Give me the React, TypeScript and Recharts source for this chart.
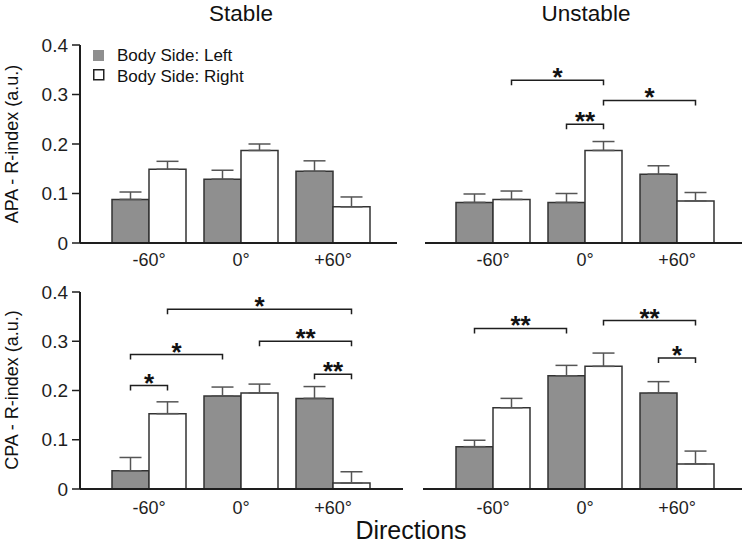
import { BarChart, Bar, XAxis, YAxis, ErrorBar, ReferenceLine } from 'recharts';

const categories = ['-60°', '0°', '+60°'];
const yTicks = [0, 0.1, 0.2, 0.3, 0.4];

// APA, stable surface
const stableApaLeft = [0.088, 0.129, 0.145];
const stableApaLeftErr = [0.015, 0.018, 0.021];
const stableApaRight = [0.149, 0.187, 0.073];
const stableApaRightErr = [0.016, 0.013, 0.02];

// APA, unstable surface
const unstableApaLeft = [0.082, 0.082, 0.139];
const unstableApaLeftErr = [0.017, 0.018, 0.017];
const unstableApaRight = [0.088, 0.187, 0.085];
const unstableApaRightErr = [0.017, 0.018, 0.017];

// CPA, stable surface
const stableCpaLeft = [0.037, 0.189, 0.184];
const stableCpaLeftErr = [0.027, 0.018, 0.024];
const stableCpaRight = [0.153, 0.195, 0.012];
const stableCpaRightErr = [0.024, 0.018, 0.023];

// CPA, unstable surface
const unstableCpaLeft = [0.086, 0.23, 0.195];
const unstableCpaLeftErr = [0.013, 0.021, 0.023];
const unstableCpaRight = [0.165, 0.249, 0.051];
const unstableCpaRightErr = [0.019, 0.027, 0.026];

// significance brackets: [category, side] -> [category, side], height, label
type Bracket = { from: [number, number]; to: [number, number]; y: number; label: string };
const stableApaBrackets: Bracket[] = [];
const unstableApaBrackets: Bracket[] = [
  { from: [0, 1], to: [1, 1], y: 0.329, label: '*' },
  { from: [1, 0], to: [1, 1], y: 0.24, label: '**' },
  { from: [1, 1], to: [2, 1], y: 0.288, label: '*' },
];
const stableCpaBrackets: Bracket[] = [
  { from: [0, 1], to: [2, 1], y: 0.365, label: '*' },
  { from: [1, 1], to: [2, 1], y: 0.3, label: '**' },
  { from: [0, 0], to: [1, 0], y: 0.273, label: '*' },
  { from: [2, 0], to: [2, 1], y: 0.233, label: '**' },
  { from: [0, 0], to: [0, 1], y: 0.21, label: '*' },
];
const unstableCpaBrackets: Bracket[] = [
  { from: [0, 0], to: [1, 0], y: 0.326, label: '**' },
  { from: [1, 1], to: [2, 1], y: 0.342, label: '**' },
  { from: [2, 0], to: [2, 1], y: 0.266, label: '*' },
];

const FONT = '"Liberation Sans", Arial, Helvetica, sans-serif';
const GRAY = '#8f8f8f';
const INK = '#1e1e1e';
const BAR_SIZE = 37;
const TICK_DROP = 5;

// bars sit side by side (barGap 0), so each bar centre is half a bar from the band centre
const sideShift = (side: number) => (side === 0 ? -BAR_SIZE / 2 : BAR_SIZE / 2);

const BracketShape = (props: any) => {
  const { x1, y1, x2, sa, sb, label } = props;
  if (x1 == null || y1 == null) return null;
  const xa = x1 + sideShift(sa);
  const xb = x2 + sideShift(sb);
  return (
    <g>
      <path
        d={`M${xa},${y1 + TICK_DROP}V${y1}H${xb}V${y1 + TICK_DROP}`}
        fill="none"
        stroke={INK}
        strokeWidth={1.5}
      />
      <text x={(xa + xb) / 2} y={y1 + 6} textAnchor="middle" fontSize={26} fontWeight="bold" fill="#111" fontFamily={FONT}>
        {label}
      </text>
    </g>
  );
};

type Box = { left: number; top: number; width: number; height: number };
type Plot = { x0: number; x1: number; y0: number; y1: number; padL: number; padR: number; tickGap: number };

interface PanelProps {
  box: Box;
  plot: Plot;
  showY: boolean;
  left: number[];
  leftErr: number[];
  right: number[];
  rightErr: number[];
  brackets: Bracket[];
}

const Panel = ({ box, plot, showY, left, leftErr, right, rightErr, brackets }: PanelProps) => {
  const data = categories.map((cat, i) => ({
    cat,
    left: left[i],
    right: right[i],
    leftErr: [0, leftErr[i]],
    rightErr: [0, rightErr[i]],
  }));
  const yAxisW = 80;
  const margin = {
    top: plot.y0 - box.top,
    left: showY ? plot.x0 - box.left - yAxisW : plot.x0 - box.left,
    right: box.left + box.width - plot.x1,
    bottom: 0,
  };
  const xAxisH = box.top + box.height - plot.y1;

  return (
    <div style={{ position: 'absolute', left: box.left, top: box.top, width: box.width, height: box.height }}>
      <BarChart width={box.width} height={box.height} data={data} margin={margin} barSize={BAR_SIZE} barGap={0}>
        <XAxis
          dataKey="cat"
          padding={{ left: plot.padL, right: plot.padR }}
          height={xAxisH}
          axisLine={{ stroke: INK, strokeWidth: 2 }}
          tickLine={false}
          tickSize={0}
          tickMargin={plot.tickGap}
          tick={{ fontSize: 18, fill: INK, fontFamily: FONT }}
        />
        {showY ? (
          <YAxis
            width={yAxisW}
            domain={[0, 0.4]}
            ticks={yTicks}
            interval={0}
            axisLine={{ stroke: INK, strokeWidth: 2 }}
            tickLine={{ stroke: INK, strokeWidth: 1.5 }}
            tickSize={8}
            tickMargin={4}
            tickFormatter={(v: number) => (v === 0 ? '0' : v.toFixed(1))}
            tick={{ fontSize: 19, fill: INK, fontFamily: FONT }}
          />
        ) : (
          <YAxis hide domain={[0, 0.4]} />
        )}
        <Bar dataKey="left" fill={GRAY} stroke="#333" strokeWidth={1.5} isAnimationActive={false}>
          <ErrorBar dataKey="leftErr" direction="y" width={11} stroke="#555" strokeWidth={1.5} />
        </Bar>
        <Bar dataKey="right" fill="#fff" stroke="#333" strokeWidth={1.5} isAnimationActive={false}>
          <ErrorBar dataKey="rightErr" direction="y" width={11} stroke="#555" strokeWidth={1.5} />
        </Bar>
        {brackets.map((b, i) => (
          <ReferenceLine
            key={i}
            ifOverflow="visible"
            segment={[
              { x: categories[b.from[0]], y: b.y },
              { x: categories[b.to[0]], y: b.y },
            ]}
            stroke={INK}
            shape={(p: any) => <BracketShape {...p} sa={b.from[1]} sb={b.to[1]} label={b.label} />}
          />
        ))}
      </BarChart>
    </div>
  );
};

export default function App() {
  return (
    <div style={{ position: 'absolute', left: 0, top: 0, width: 749, height: 546, background: '#fff', fontFamily: FONT }}>
      <Panel
        box={{ left: 0, top: 0, width: 410, height: 275 }}
        plot={{ x0: 80, x1: 397, y0: 45, y1: 243, padL: 23, padR: 18, tickGap: 10 }}
        showY
        left={stableApaLeft}
        leftErr={stableApaLeftErr}
        right={stableApaRight}
        rightErr={stableApaRightErr}
        brackets={stableApaBrackets}
      />
      <Panel
        box={{ left: 345, top: 0, width: 404, height: 275 }}
        plot={{ x0: 425, x1: 742, y0: 45, y1: 243, padL: 22, padR: 19, tickGap: 10 }}
        showY={false}
        left={unstableApaLeft}
        leftErr={unstableApaLeftErr}
        right={unstableApaRight}
        rightErr={unstableApaRightErr}
        brackets={unstableApaBrackets}
      />
      <Panel
        box={{ left: 0, top: 262, width: 410, height: 262 }}
        plot={{ x0: 80, x1: 403, y0: 292, y1: 489, padL: 23, padR: 24, tickGap: 12 }}
        showY
        left={stableCpaLeft}
        leftErr={stableCpaLeftErr}
        right={stableCpaRight}
        rightErr={stableCpaRightErr}
        brackets={stableCpaBrackets}
      />
      <Panel
        box={{ left: 345, top: 262, width: 404, height: 262 }}
        plot={{ x0: 423, x1: 742, y0: 292, y1: 489, padL: 24, padR: 19, tickGap: 12 }}
        showY={false}
        left={unstableCpaLeft}
        leftErr={unstableCpaLeftErr}
        right={unstableCpaRight}
        rightErr={unstableCpaRightErr}
        brackets={unstableCpaBrackets}
      />
      <svg width={749} height={546} style={{ position: 'absolute', left: 0, top: 0, pointerEvents: 'none' }} fontFamily={FONT}>
        <text x={241} y={21} textAnchor="middle" fontSize={22.5} fill="#111">Stable</text>
        <text x={586} y={21} textAnchor="middle" fontSize={22.5} fill="#111">Unstable</text>
        <text x={411} y={539} textAnchor="middle" fontSize={25} fill="#111">Directions</text>
        <text transform="translate(17.5,144) rotate(-90)" textAnchor="middle" fontSize={18} fill="#111">
          APA - R-index (a.u.)
        </text>
        <text transform="translate(17.5,390) rotate(-90)" textAnchor="middle" fontSize={18} fill="#111">
          CPA - R-index (a.u.)
        </text>
        <rect x={93} y={50} width={11} height={11} fill={GRAY} />
        <rect x={93.75} y={69.75} width={10} height={10} fill="#fff" stroke="#222" strokeWidth={1.5} />
        <text x={117} y={61} fontSize={17} fill="#111">Body Side: Left</text>
        <text x={117} y={81.5} fontSize={17} fill="#111">Body Side: Right</text>
      </svg>
    </div>
  );
}
